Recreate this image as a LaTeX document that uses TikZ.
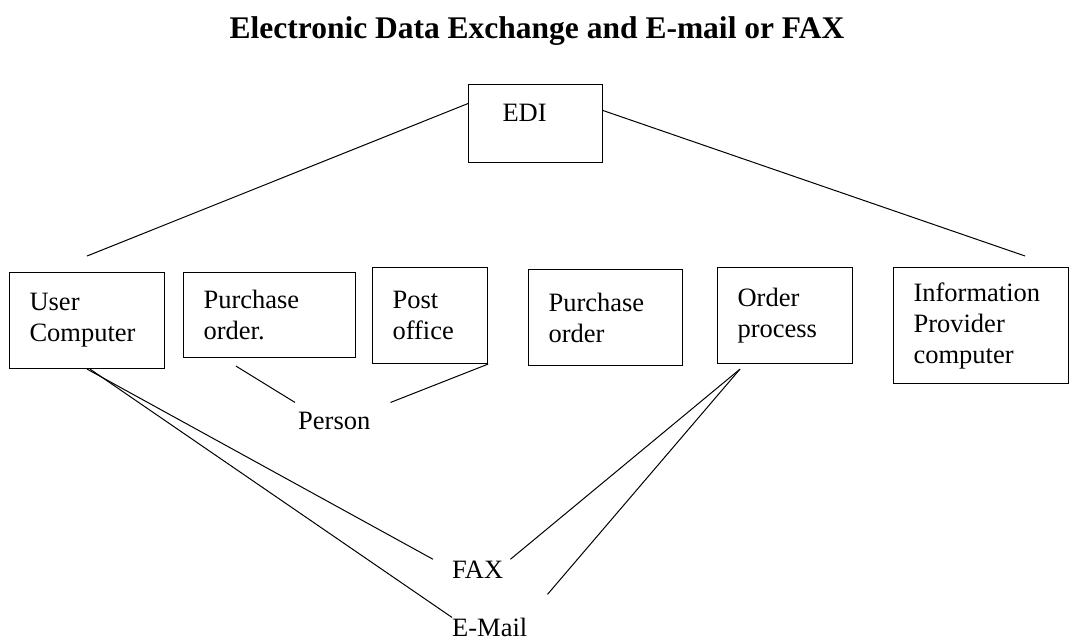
\documentclass[tikz,border=0pt]{standalone}
\usepackage{fontspec}
\setmainfont{Liberation Serif}
\begin{document}
\begin{tikzpicture}[
    x=1pt, y=-1pt,
    box/.style={rectangle, draw, line width=1.1pt, anchor=north west, align=left, inner xsep=20pt, inner ysep=0pt, font=\fontsize{26.5}{31}\selectfont},
    lbl/.style={anchor=base west, inner sep=0pt, font=\fontsize{26.5}{31}\selectfont},
    link/.style={line width=1pt},
  ]
  \useasboundingbox (0,0) rectangle (1073,642);

  % Title
  \node[anchor=base, inner sep=0pt, font=\fontsize{31.5}{38}\selectfont\bfseries] (title) at (537,38) {Electronic Data Exchange and E-mail or FAX};

  % Boxes
  \node[box, inner xsep=34pt, text width=66pt, minimum height=78pt, text depth=22pt] (edi) at (468,84) {EDI};
  \node[box, text width=115pt, minimum height=96pt] (user) at (9,272) {User\\Computer};
  \node[box, text width=132pt, minimum height=85pt] (po1) at (183,272) {Purchase\\order.};
  \node[box, text width=75pt, minimum height=96pt] (post) at (372,267) {Post\\office};
  \node[box, text width=114pt, minimum height=96pt] (po2) at (528,269) {Purchase\\order};
  \node[box, text width=95pt, minimum height=96pt] (ord) at (717,267) {Order\\process};
  \node[box, text width=135pt, minimum height=116pt] (info) at (893,267) {Information\\Provider\\computer};

  % Plain labels
  \node[lbl] (person) at (298,429) {Person};
  \node[lbl] (fax) at (452,578) {FAX};
  \node[lbl] (email) at (452,636) {E-Mail};

  % EDI lines
  \draw[link] ([yshift=20pt]edi.west) -- ([yshift=16pt]user.north);
  \draw[link] ([yshift=13pt]edi.east) -- ([xshift=44pt,yshift=11pt]info.north);

  % Person
  \draw[link] ([xshift=53pt,yshift=-8pt]po1.south west) -- ([xshift=-3pt,yshift=9pt]person.north west);
  \draw[link] (post.south east) -- ([xshift=20pt,yshift=9pt]person.north east);

  % FAX and E-Mail
  \draw[link] (user.south) -- ([xshift=-19pt,yshift=10pt]fax.west);
  \draw[link] ([xshift=3pt]user.south) -- (email.north west);
  \draw[link] ([xshift=23pt,yshift=-5pt]ord.south west) -- ([xshift=7pt,yshift=10pt]fax.east);
  \draw[link] ([xshift=23pt,yshift=-5pt]ord.south west) -- ([xshift=20pt,yshift=23pt]email.north east);
\end{tikzpicture}
\end{document}
